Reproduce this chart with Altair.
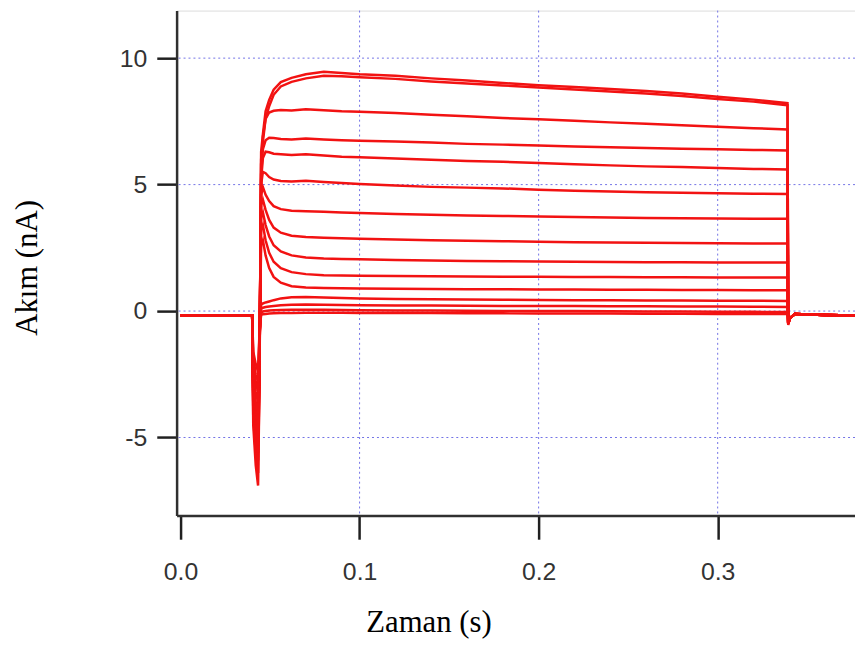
import altair as alt
import pandas as pd

# time axis (s)
time_s = [0.0, 0.0400, 0.0406, 0.0420, 0.0433, 0.0441, 0.0450, 0.0460, 0.0475, 0.0495,
          0.052, 0.056, 0.062, 0.070, 0.080, 0.090, 0.100, 0.120, 0.140, 0.160,
          0.180, 0.200, 0.220, 0.240, 0.260, 0.280, 0.300, 0.320, 0.3390, 0.3394,
          0.3402, 0.343, 0.360, 0.380]

# current traces (nA)
trace_a = [-0.18, -0.18, -4.5, -6.1, -6.9, -2.8, 6.3, 7.0, 7.9, 8.35, 8.75, 9.05, 9.22, 9.36, 9.46, 9.41, 9.36,
           9.30, 9.20, 9.12, 9.02, 8.93, 8.86, 8.78, 8.70, 8.60, 8.47, 8.36, 8.22, -0.55, -0.3, -0.12, -0.16, -0.18]
trace_b = [-0.18, -0.18, -4.2, -5.6, -6.4, -2.6, 6.0, 6.7, 7.6, 8.1, 8.55, 8.88, 9.06, 9.2, 9.3, 9.28, 9.24,
           9.18, 9.08, 9.0, 8.92, 8.84, 8.76, 8.68, 8.6, 8.5, 8.38, 8.28, 8.14, -0.52, -0.3, -0.12, -0.16, -0.18]
trace_c = [-0.18, -0.18, -3.8, -5.2, -5.9, -2.4, 5.8, 6.9, 7.6, 7.85, 7.92, 7.95, 7.93, 7.98, 7.94, 7.9, 7.88,
           7.83, 7.76, 7.7, 7.63, 7.58, 7.52, 7.46, 7.41, 7.35, 7.29, 7.23, 7.18, -0.5, -0.3, -0.12, -0.16, -0.18]
trace_d = [-0.18, -0.18, -3.6, -4.9, -5.6, -2.2, 5.4, 6.4, 6.75, 6.85, 6.84, 6.8, 6.78, 6.82, 6.78, 6.75, 6.73,
           6.7, 6.66, 6.61, 6.58, 6.55, 6.51, 6.48, 6.45, 6.42, 6.4, 6.37, 6.35, -0.5, -0.3, -0.12, -0.16, -0.18]
trace_e = [-0.18, -0.18, -3.4, -4.7, -5.3, -2.1, 5.2, 6.05, 6.3, 6.28, 6.22, 6.2, 6.17, 6.2, 6.15, 6.1, 6.08,
           6.03, 5.98, 5.93, 5.9, 5.85, 5.8, 5.76, 5.72, 5.7, 5.66, 5.62, 5.6, -0.5, -0.3, -0.12, -0.16, -0.18]
trace_f = [-0.18, -0.18, -3.3, -4.5, -5.1, -1.9, 5.0, 5.5, 5.45, 5.3, 5.2, 5.14, 5.12, 5.15, 5.1, 5.06, 5.02,
           4.96, 4.91, 4.88, 4.85, 4.8, 4.76, 4.73, 4.7, 4.68, 4.66, 4.64, 4.63, -0.5, -0.3, -0.12, -0.16, -0.18]
trace_g = [-0.18, -0.18, -3.2, -4.3, -4.9, -1.8, 4.6, 4.9, 4.6, 4.35, 4.15, 4.03, 3.97, 3.95, 3.93, 3.9, 3.88,
           3.84, 3.81, 3.78, 3.76, 3.74, 3.72, 3.7, 3.68, 3.67, 3.66, 3.65, 3.65, -0.5, -0.3, -0.12, -0.16, -0.18]
trace_h = [-0.18, -0.18, -3.1, -4.1, -4.7, -1.7, 4.2, 4.4, 4.0, 3.6, 3.3, 3.1, 2.98, 2.93, 2.9, 2.88, 2.86,
           2.83, 2.8, 2.78, 2.76, 2.74, 2.72, 2.71, 2.7, 2.69, 2.68, 2.67, 2.67, -0.5, -0.3, -0.12, -0.16, -0.18]
trace_i = [-0.18, -0.18, -2.9, -4.0, -4.5, -1.6, 3.7, 3.9, 3.4, 2.95, 2.6, 2.36, 2.2, 2.12, 2.08, 2.06, 2.05,
           2.02, 2.0, 1.98, 1.97, 1.96, 1.95, 1.94, 1.93, 1.93, 1.92, 1.92, 1.92, -0.5, -0.3, -0.12, -0.16, -0.18]
trace_j = [-0.18, -0.18, -2.8, -3.8, -4.3, -1.5, 3.2, 3.4, 2.8, 2.3, 1.95, 1.7, 1.54, 1.46, 1.42, 1.41, 1.4,
           1.39, 1.38, 1.37, 1.36, 1.36, 1.35, 1.35, 1.34, 1.34, 1.33, 1.33, 1.33, -0.5, -0.3, -0.12, -0.16, -0.18]
trace_k = [-0.18, -0.18, -2.7, -3.6, -4.1, -1.4, 2.6, 2.8, 2.2, 1.7, 1.35, 1.12, 0.98, 0.93, 0.91, 0.9, 0.89,
           0.88, 0.87, 0.86, 0.86, 0.85, 0.85, 0.84, 0.84, 0.83, 0.83, 0.82, 0.82, -0.5, -0.3, -0.12, -0.16, -0.18]
trace_l = [-0.18, -0.18, -2.3, -3.2, -3.6, -1.2, 0.25, 0.3, 0.34, 0.38, 0.43, 0.5, 0.55, 0.56, 0.54, 0.52, 0.5,
           0.48, 0.47, 0.46, 0.45, 0.44, 0.43, 0.43, 0.42, 0.42, 0.41, 0.41, 0.4, -0.5, -0.3, -0.12, -0.16, -0.18]
trace_m = [-0.18, -0.18, -2.1, -2.8, -3.2, -1.0, 0.1, 0.13, 0.16, 0.18, 0.2, 0.23, 0.25, 0.26, 0.25, 0.24, 0.23,
           0.22, 0.22, 0.21, 0.2, 0.2, 0.2, 0.19, 0.19, 0.18, 0.18, 0.17, 0.16, -0.5, -0.3, -0.12, -0.16, -0.18]
trace_n = [-0.18, -0.18, -1.8, -2.5, -2.8, -0.9, -0.05, -0.02, 0.0, 0.02, 0.03, 0.04, 0.05, 0.05, 0.05, 0.04, 0.03,
           0.02, 0.02, 0.01, 0.0, 0.0, 0.0, -0.01, -0.02, -0.02, -0.03, -0.03, -0.04, -0.5, -0.3, -0.12, -0.16, -0.18]
trace_o = [-0.18, -0.18, -1.6, -2.1, -2.4, -0.8, -0.15, -0.13, -0.12, -0.1, -0.09, -0.08, -0.08, -0.07, -0.07, -0.07, -0.08,
           -0.08, -0.08, -0.09, -0.09, -0.1, -0.1, -0.1, -0.11, -0.11, -0.12, -0.12, -0.12, -0.45, -0.28, -0.12, -0.16, -0.18]

traces = {"a": trace_a, "b": trace_b, "c": trace_c, "d": trace_d, "e": trace_e,
          "f": trace_f, "g": trace_g, "h": trace_h, "i": trace_i, "j": trace_j,
          "k": trace_k, "l": trace_l, "m": trace_m, "n": trace_n, "o": trace_o}

x_ticks = [0.0, 0.1, 0.2, 0.3]
y_ticks = [-5, 0, 5, 10]
grid_x = [0.1, 0.2, 0.3]
grid_y = [-5, 0, 5, 10]

rows = []
for name, vals in traces.items():
    for t, v in zip(time_s, vals):
        rows.append({"trace": name, "t": t, "i": v})
df = pd.DataFrame(rows)

xscale = alt.Scale(domain=[-0.0022, 0.3767], nice=False, zero=False)
yscale = alt.Scale(domain=[-8.08, 11.88], nice=False, zero=False)

x_axis = alt.Axis(
    values=x_ticks, format=".1f", grid=False,
    title="Zaman (s)", titleFont="Liberation Serif", titleFontSize=31,
    titleFontWeight="normal", titleColor="#000000",
    titleX=254, titleY=117, titleAlign="center", titleBaseline="alphabetic",
    domainColor="#303030", domainWidth=2.5,
    tickColor="#202020", tickWidth=2.5, tickSize=24,
    labelFont="Liberation Sans", labelFontSize=25, labelColor="#333333",
    labelPadding=41, labelBaseline="alphabetic", labelOverlap=False, labelFlush=False,
)
y_axis = alt.Axis(
    values=y_ticks, grid=False,
    labelExpr="datum.value < 0 ? '-' + format(-datum.value, 'd') : format(datum.value, 'd')",
    title="Akım (nA)", titleFont="Liberation Serif", titleFontSize=31,
    titleFontWeight="normal", titleColor="#000000", titleAngle=270,
    titleX=-141, titleY=259, titleAlign="center", titleBaseline="alphabetic",
    domainColor="#303030", domainWidth=2.5,
    tickColor="#202020", tickWidth=2.5, tickSize=20,
    labelFont="Liberation Sans", labelFontSize=25, labelColor="#333333",
    labelPadding=10, labelBaseline="middle", labelOverlap=False,
)

grid_color = "#7272e6"

lines = alt.Chart(df).mark_line(color="#f21212", strokeWidth=2.5, clip=True).encode(
    x=alt.X("t:Q", scale=xscale, axis=x_axis),
    y=alt.Y("i:Q", scale=yscale, axis=y_axis),
    detail="trace:N",
    order="t:Q",
)

vgrid = alt.Chart(pd.DataFrame({"t": grid_x})).mark_rule(
    color=grid_color, strokeDash=[2, 3], strokeWidth=1
).encode(x=alt.X("t:Q", scale=xscale, axis=x_axis))

hgrid = alt.Chart(pd.DataFrame({"i": grid_y})).mark_rule(
    color=grid_color, strokeDash=[2, 3], strokeWidth=1
).encode(y=alt.Y("i:Q", scale=yscale, axis=y_axis))

chart = alt.layer(vgrid, hgrid, lines).properties(
    width=684, height=509,
    autosize=alt.AutoSizeParams(type="none"),
    padding={"left": 170, "top": 0, "right": 0, "bottom": 122},
).configure_view(strokeWidth=0).configure(background="white")

chart.save("out.html", embed_options={"renderer": "svg", "actions": False})
